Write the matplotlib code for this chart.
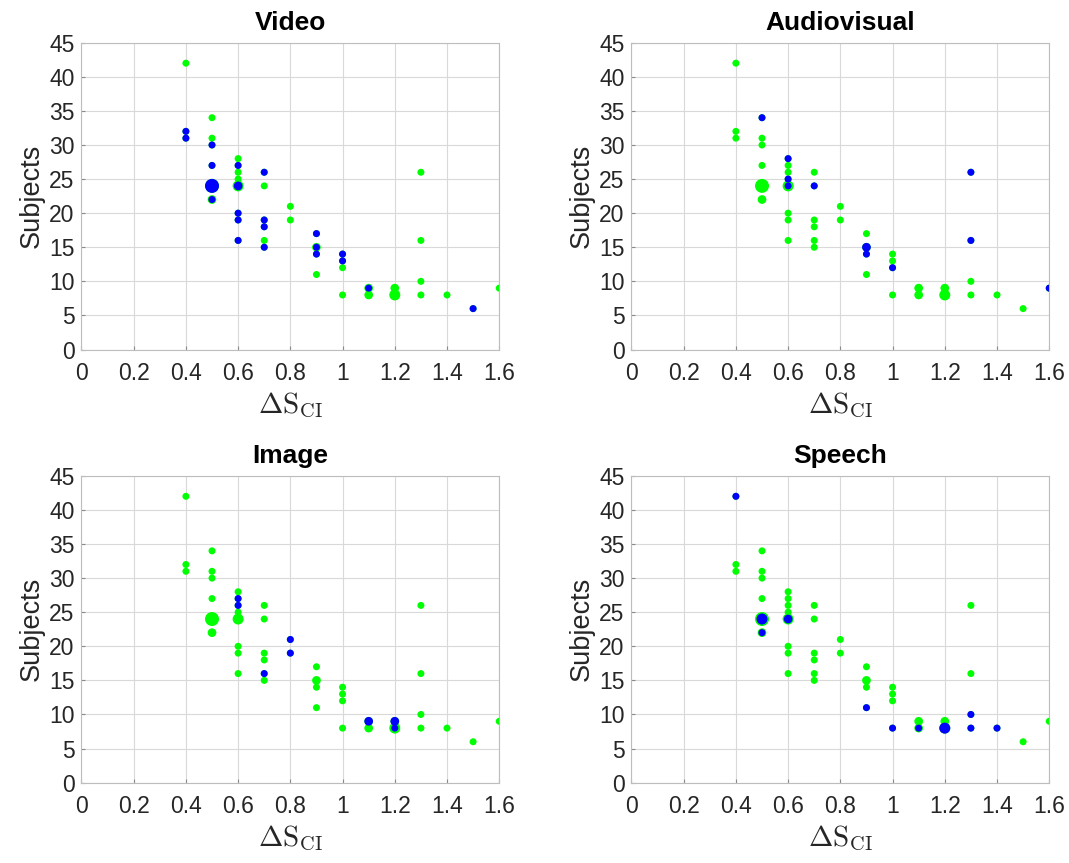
import numpy as np
import matplotlib
matplotlib.use('Agg')
import matplotlib.pyplot as plt
from matplotlib.ticker import FuncFormatter

plt.rcParams['font.family'] = ['Liberation Sans', 'DejaVu Sans']
plt.rcParams['mathtext.fontset'] = 'cm'

# all studies: (delta S_CI, subjects, number of studies at that point)
all_x = [0.4, 0.4, 0.4,
         0.5, 0.5, 0.5, 0.5, 0.5, 0.5,
         0.6, 0.6, 0.6, 0.6, 0.6, 0.6, 0.6, 0.6,
         0.7, 0.7, 0.7, 0.7, 0.7, 0.7,
         0.8, 0.8,
         0.9, 0.9, 0.9, 0.9,
         1.0, 1.0, 1.0, 1.0,
         1.1, 1.1,
         1.2, 1.2,
         1.3, 1.3, 1.3, 1.3,
         1.4, 1.5, 1.6]
all_y = [42, 32, 31,
         34, 31, 30, 27, 24, 22,
         28, 27, 26, 25, 24, 20, 19, 16,
         26, 24, 19, 18, 16, 15,
         21, 19,
         17, 15, 14, 11,
         14, 13, 12, 8,
         9, 8,
         9, 8,
         26, 16, 10, 8,
         8, 6, 9]
all_n = [1, 1, 1,
         1, 1, 1, 1, 4, 2,
         1, 1, 1, 1, 3, 1, 1, 1,
         1, 1, 1, 1, 1, 1,
         1, 1,
         1, 2, 1, 1,
         1, 1, 1, 1,
         2, 2,
         2, 3,
         1, 1, 1, 1,
         1, 1, 1]

# studies per modality
video_x = [0.4, 0.4, 0.5, 0.5, 0.5, 0.5, 0.6, 0.6, 0.6, 0.6, 0.6,
           0.7, 0.7, 0.7, 0.7, 0.9, 0.9, 0.9, 1.0, 1.0, 1.1, 1.5]
video_y = [32, 31, 30, 27, 24, 22, 27, 24, 20, 19, 16,
           26, 19, 18, 15, 17, 15, 14, 14, 13, 9, 6]
video_n = [1, 1, 1, 1, 4, 1, 1, 2, 1, 1, 1,
           1, 1, 1, 1, 1, 1, 1, 1, 1, 1, 1]

av_x = [0.5, 0.6, 0.6, 0.6, 0.7, 0.9, 0.9, 1.0, 1.3, 1.3, 1.6]
av_y = [34, 28, 25, 24, 24, 15, 14, 12, 26, 16, 9]
av_n = [1, 1, 1, 1, 1, 2, 1, 1, 1, 1, 1]

image_x = [0.6, 0.6, 0.7, 0.8, 0.8, 1.1, 1.2, 1.2]
image_y = [27, 26, 16, 21, 19, 9, 9, 8]
image_n = [1, 1, 1, 1, 1, 2, 2, 1]

speech_x = [0.4, 0.5, 0.5, 0.6, 0.9, 1.0, 1.1, 1.2, 1.3, 1.3, 1.4]
speech_y = [42, 24, 22, 24, 11, 8, 8, 8, 10, 8, 8]
speech_n = [1, 3, 1, 2, 1, 1, 1, 3, 1, 1, 1]

titles = ['Video', 'Audiovisual', 'Image', 'Speech']
subsets = [(video_x, video_y, video_n), (av_x, av_y, av_n),
           (image_x, image_y, image_n), (speech_x, speech_y, speech_n)]

DPI = 100
diam_px = np.array([0, 7, 8.7, 11, 14])


def marker_size(n):
    d = diam_px[np.asarray(n)] * 72 / DPI
    return d ** 2


fig = plt.figure(figsize=(10.69, 8.63), dpi=DPI)
lefts = [0.0762, 0.5907, 0.0762, 0.5907]
bottoms = [0.595, 0.595, 0.0931, 0.0931]
w, h = 0.3908, 0.3555

for i in range(4):
    ax = fig.add_axes([lefts[i], bottoms[i], w, h])
    ax.scatter(all_x, all_y, s=marker_size(all_n), color=(0, 1, 0),
               linewidths=0, zorder=3)
    sx, sy, sn = subsets[i]
    ax.scatter(sx, sy, s=marker_size(sn), color=(0, 0, 1),
               linewidths=0, zorder=4)

    ax.set_xlim(0, 1.6)
    ax.set_ylim(0, 45)
    ax.set_xticks(np.arange(0, 1.61, 0.2))
    ax.set_yticks(np.arange(0, 46, 5))
    ax.xaxis.set_major_formatter(FuncFormatter(lambda v, p: f'{v:g}'))
    ax.grid(True, color='#d9d9d9', linewidth=0.8, zorder=0)
    ax.set_axisbelow(True)
    for sp in ax.spines.values():
        sp.set_color('#bdbdbd')
        sp.set_linewidth(0.8)
    ax.tick_params(direction='in', length=3, width=0.8, color='#8a8a8a',
                   labelsize=16.5, labelcolor='#262626')
    ax.tick_params(axis='x', pad=9)
    ax.tick_params(axis='y', pad=5)

    ax.set_title(titles[i], fontsize=19, fontweight='bold', color='black', pad=9)
    ax.set_ylabel('Subjects', fontsize=19.5, color='#262626', labelpad=3)
    ax.set_xlabel(r'$\Delta\mathrm{S}_{\mathrm{CI}}$', fontsize=21,
                  color='#262626', labelpad=4)

fig.savefig('out.png', dpi=DPI, facecolor='white')
